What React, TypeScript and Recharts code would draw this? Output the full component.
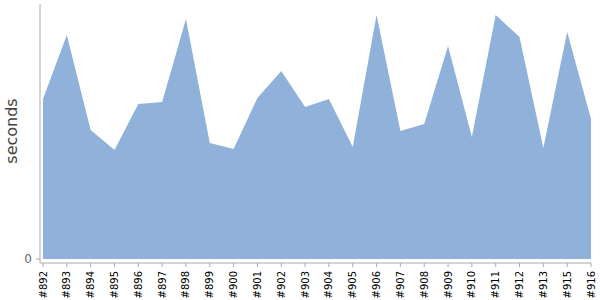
import { AreaChart, Area, XAxis, YAxis } from "recharts";

const builds = [
  "#892", "#893", "#894", "#895", "#896", "#897", "#898", "#899",
  "#900", "#901", "#902", "#903", "#904", "#905", "#906", "#907",
  "#908", "#909", "#910", "#911", "#912", "#913", "#915", "#916",
];

const seconds = [
  160, 224, 129, 109, 155, 157, 240, 116,
  110, 161, 188, 152, 160, 112, 244, 128,
  135, 213, 122, 244, 222, 111, 227, 140,
];

const yTicks = [0];

const data = builds.map((name, i) => ({ name, value: seconds[i] }));

function BuildTick({ x, y, payload }: any) {
  return (
    <text
      transform={`translate(${x},${y}) rotate(-90)`}
      textAnchor="end"
      dy="0.35em"
      fontSize={10}
      fill="#000"
      fontFamily="DejaVu Sans"
    >
      {payload.value}
    </text>
  );
}

function SecondsLabel() {
  return (
    <text
      transform="translate(17,131) rotate(-90)"
      textAnchor="middle"
      fontSize={16}
      fill="#444"
      fontFamily="DejaVu Sans"
    >
      seconds
    </text>
  );
}

export default function App() {
  return (
    <div style={{ position: "absolute", left: 0, top: 0, background: "#fff" }}>
      <AreaChart
        width={600}
        height={300}
        data={data}
        margin={{ top: 4, right: 9, left: 0, bottom: 0 }}
      >
        <XAxis
          dataKey="name"
          interval={0}
          height={37}
          padding={{ left: 3, right: 0 }}
          tickSize={4}
          tickMargin={4}
          stroke="#aaa"
          tick={<BuildTick />}
        />
        <YAxis
          width={40}
          domain={[-4, 255]}
          ticks={yTicks}
          tickSize={4}
          tickMargin={4}
          stroke="#aaa"
          tick={{ fill: "#666", fontSize: 12, fontFamily: "DejaVu Sans" }}
          label={<SecondsLabel />}
        />
        <Area
          type="linear"
          dataKey="value"
          stroke="none"
          fill="#8fb1da"
          fillOpacity={1}
          isAnimationActive={false}
        />
      </AreaChart>
    </div>
  );
}
